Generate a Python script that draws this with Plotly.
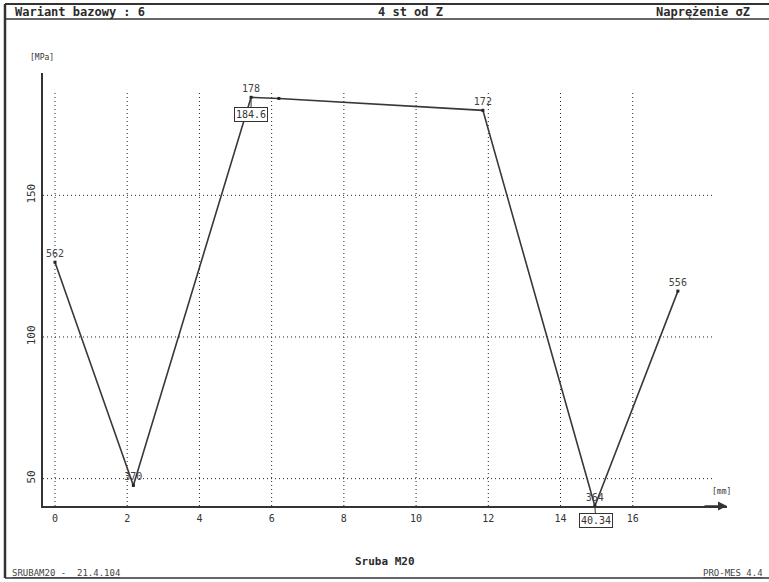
import plotly.graph_objects as go

# Stress along the bolt: node positions [mm], stress values [MPa], node numbers
pos_mm = [0.0, 2.17, 5.43, 6.2, 11.85, 14.95, 17.25]
stress = [126.4, 47.6, 184.6, 184.2, 180.0, 40.34, 116.2]
node_ids = ["562", "370", "178", "", "172", "364", "556"]

x_ticks = [0, 2, 4, 6, 8, 10, 12, 14, 16]
y_ticks = [50, 100, 150]

peak_val = 184.6
min_val = 40.34

W, H = 769, 582
M_L, M_R, M_T, M_B = 43, 42, 73, 76
PW, PH = W - M_L - M_R, H - M_T - M_B

MONO = "DejaVu Sans Mono"
INK = "#2b2b2b"
GRID = "#222222"

x_range = [-0.332, 18.61]
y_range = [min_val, 193.18]

fig = go.Figure()

fig.add_trace(go.Scatter(
    x=pos_mm, y=stress,
    mode="lines+markers+text",
    line=dict(color="#383838", width=1.6),
    marker=dict(symbol="square", size=3, color="#222"),
    text=node_ids, textposition="top center",
    textfont=dict(family=MONO, size=10, color="#444"),
    cliponaxis=False, hoverinfo="skip", showlegend=False,
))

shapes = []
# dotted grid
for xv in x_ticks:
    shapes.append(dict(type="line", xref="x", yref="y", x0=xv, x1=xv,
                       y0=y_range[0], y1=187.2,
                       line=dict(color=GRID, width=1, dash="1px,3px"), layer="below"))
for yv in y_ticks:
    shapes.append(dict(type="line", xref="x", yref="y", x0=x_range[0], x1=18.23,
                       y0=yv, y1=yv,
                       line=dict(color=GRID, width=1, dash="1px,3px"), layer="below"))


# page pixel -> paper coordinates (paper spans the plot area)
def px(v):
    return (v - M_L) / PW


def py(v):
    return (H - M_B - v) / PH


shapes += [
    dict(type="line", xref="paper", yref="paper", x0=px(5), x1=px(W), y0=py(4), y1=py(4),
         line=dict(color="#333", width=2)),
    dict(type="line", xref="paper", yref="paper", x0=px(5), x1=px(W), y0=py(19), y1=py(19),
         line=dict(color="#333", width=1.5)),
    dict(type="line", xref="paper", yref="paper", x0=px(5), x1=px(5), y0=py(4), y1=py(578),
         line=dict(color="#333", width=2.5)),
    dict(type="line", xref="paper", yref="paper", x0=px(5), x1=px(W), y0=py(578), y1=py(578),
         line=dict(color="#333", width=1.5)),
]


def page_text(txt, x, y, anchor, size, bold=False, color=INK):
    font = dict(family=MONO, size=size, color=color)
    if bold:
        font["weight"] = "bold"
    return dict(text=txt, x=px(x), y=py(y), xref="paper", yref="paper",
                xanchor=anchor, yanchor="middle", showarrow=False, font=font)


annotations = [
    page_text("Wariant bazowy : 6", 13, 12, "left", 12, True),
    page_text("4 st od Z", 410, 12, "center", 12, True),
    page_text("Naprężenie σZ", 752, 12, "right", 12, True),
    page_text("Sruba M20", 385, 561, "center", 11, True),
    page_text("<u>SRUBAM20 -  21.4.104</u>", 10, 573, "left", 9, color="#444"),
    page_text("<u>PRO-MES 4.4</u>", 765, 573, "right", 9, color="#444"),
    page_text("[MPa]", 28, 57, "left", 8, color="#333"),
    page_text("[mm]", 710, 491, "left", 8, color="#333"),
    # x-axis arrowhead
    dict(x=x_range[1], y=y_range[0], xref="x", yref="y", ax=-24, ay=0,
         text="", showarrow=True, arrowhead=2, arrowsize=1.2, arrowwidth=1.5,
         arrowcolor="#333"),
    # boxed extreme values
    dict(x=pos_mm[stress.index(peak_val)], y=peak_val, xref="x", yref="y",
         text=f"{peak_val}", ax=0, ay=17, showarrow=True, arrowhead=0,
         arrowwidth=1, arrowcolor="#333", bordercolor="#333", borderwidth=1,
         borderpad=1, bgcolor="white",
         font=dict(family=MONO, size=10, color="#333")),
    dict(x=pos_mm[stress.index(min_val)], y=min_val, xref="x", yref="y",
         text=f"{min_val}", ax=1, ay=14, showarrow=True, arrowhead=0,
         arrowwidth=1, arrowcolor="#333", bordercolor="#333", borderwidth=1,
         borderpad=1, bgcolor="white",
         font=dict(family=MONO, size=10, color="#333")),
]

fig.update_layout(
    width=W, height=H,
    margin=dict(l=M_L, r=M_R, t=M_T, b=M_B),
    paper_bgcolor="white", plot_bgcolor="white",
    shapes=shapes, annotations=annotations,
    xaxis=dict(range=x_range, tickvals=x_ticks, ticktext=[str(v) for v in x_ticks],
               showgrid=False, zeroline=False, showline=True, linecolor="#333",
               linewidth=1.5, ticks="", ticklabelstandoff=2,
               tickfont=dict(family=MONO, size=10, color="#333")),
    yaxis=dict(range=y_range, tickvals=y_ticks, ticktext=[str(v) for v in y_ticks],
               showgrid=False, zeroline=False, showline=True, linecolor="#333",
               linewidth=1.5, ticks="", tickangle=-90, ticklabelstandoff=2,
               tickfont=dict(family=MONO, size=11, color="#333")),
)

fig.write_html("out.html")
